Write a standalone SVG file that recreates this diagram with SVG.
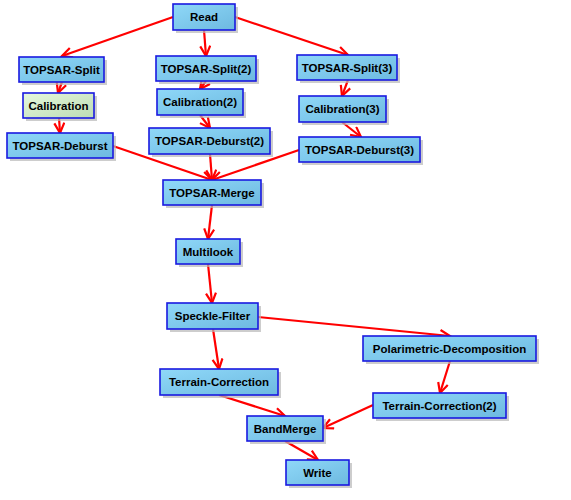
<svg xmlns="http://www.w3.org/2000/svg" width="571" height="500" viewBox="0 0 571 500">
<style>
.box{fill:url(#gb);stroke:#1a1ae0;stroke-width:1.6}
.box.g{fill:url(#gg)}
.sh{fill:#b8b8b8;opacity:0.7}
.t{font-family:"Liberation Sans",Arial,sans-serif;font-weight:bold;font-size:11.5px;fill:#000;text-anchor:middle}
.e{stroke:#ff0000;stroke-width:2.2;fill:none;marker-end:url(#ah)}
</style>
<defs>
<linearGradient id="gb" x1="0" y1="0" x2="1" y2="1">
<stop offset="0" stop-color="#8fd8f8"/>
<stop offset="1" stop-color="#6db9e0"/>
</linearGradient>
<linearGradient id="gg" x1="0" y1="0" x2="1" y2="1">
<stop offset="0" stop-color="#e6f8dc"/>
<stop offset="1" stop-color="#bcdcb4"/>
</linearGradient>
<marker id="ah" markerUnits="userSpaceOnUse" markerWidth="14" markerHeight="14" refX="11" refY="6" orient="auto">
<path d="M1,1 L11,6 L1,11" fill="none" stroke="#ff0000" stroke-width="2.2"/>
</marker>
</defs>
<rect width="571" height="500" fill="#fff"/>
<g id="connectors">
<line class="e" x1="173" y1="17" x2="62" y2="56"/>
<line class="e" x1="204" y1="30" x2="206" y2="56"/>
<line class="e" x1="235" y1="17" x2="348" y2="55"/>
<line class="e" x1="62" y1="82" x2="58" y2="93"/>
<line class="e" x1="59" y1="118" x2="60" y2="133"/>
<line class="e" x1="206" y1="81" x2="200" y2="89"/>
<line class="e" x1="200" y1="115" x2="210" y2="128"/>
<line class="e" x1="348" y1="80" x2="342" y2="96"/>
<line class="e" x1="342" y1="122" x2="361" y2="137"/>
<line class="e" x1="113" y1="146" x2="212" y2="180"/>
<line class="e" x1="210" y1="154" x2="212" y2="180"/>
<line class="e" x1="299" y1="150" x2="212" y2="180"/>
<line class="e" x1="212" y1="205" x2="208" y2="239"/>
<line class="e" x1="208" y1="264" x2="212" y2="303"/>
<line class="e" x1="213" y1="329" x2="219" y2="369"/>
<line class="e" x1="258" y1="317" x2="450" y2="336"/>
<line class="e" x1="450" y1="361" x2="440" y2="393"/>
<line class="e" x1="219" y1="395" x2="285" y2="416"/>
<line class="e" x1="373" y1="405" x2="323" y2="428"/>
<line class="e" x1="285" y1="441" x2="318" y2="460"/>
</g>
<g id="read"><rect class="sh" x="176" y="7" width="62" height="26"/><rect class="box" x="173" y="4" width="62" height="26"/><text class="t" x="204" y="21">Read</text></g>
<g id="split1"><rect class="sh" x="22" y="60" width="85" height="25"/><rect class="box" x="19" y="57" width="85" height="25"/><text class="t" x="61.5" y="73.5">TOPSAR-Split</text></g>
<g id="split2"><rect class="sh" x="159" y="59" width="100" height="25"/><rect class="box" x="156" y="56" width="100" height="25"/><text class="t" x="206" y="72.5">TOPSAR-Split(2)</text></g>
<g id="split3"><rect class="sh" x="300" y="58" width="100" height="25"/><rect class="box" x="297" y="55" width="100" height="25"/><text class="t" x="347" y="71.5">TOPSAR-Split(3)</text></g>
<g id="cal1"><rect class="sh" x="26" y="96" width="71" height="25"/><rect class="box g" x="23" y="93" width="71" height="25"/><text class="t" x="58.5" y="109.5">Calibration</text></g>
<g id="cal2"><rect class="sh" x="160" y="92" width="86" height="26"/><rect class="box" x="157" y="89" width="86" height="26"/><text class="t" x="200" y="106">Calibration(2)</text></g>
<g id="cal3"><rect class="sh" x="302" y="99" width="87" height="26"/><rect class="box" x="299" y="96" width="87" height="26"/><text class="t" x="342.5" y="113">Calibration(3)</text></g>
<g id="deb1"><rect class="sh" x="10" y="136" width="106" height="25"/><rect class="box" x="7" y="133" width="106" height="25"/><text class="t" x="60" y="149.5">TOPSAR-Deburst</text></g>
<g id="deb2"><rect class="sh" x="152" y="131" width="121" height="26"/><rect class="box" x="149" y="128" width="121" height="26"/><text class="t" x="209.5" y="145">TOPSAR-Deburst(2)</text></g>
<g id="deb3"><rect class="sh" x="302" y="140" width="121" height="25"/><rect class="box" x="299" y="137" width="121" height="25"/><text class="t" x="359.5" y="153.5">TOPSAR-Deburst(3)</text></g>
<g id="merge"><rect class="sh" x="166" y="183" width="98" height="25"/><rect class="box" x="163" y="180" width="98" height="25"/><text class="t" x="212" y="196.5">TOPSAR-Merge</text></g>
<g id="multilook"><rect class="sh" x="179" y="242" width="64" height="25"/><rect class="box" x="176" y="239" width="64" height="25"/><text class="t" x="208" y="255.5">Multilook</text></g>
<g id="speckle"><rect class="sh" x="170" y="306" width="91" height="26"/><rect class="box" x="167" y="303" width="91" height="26"/><text class="t" x="212.5" y="320">Speckle-Filter</text></g>
<g id="tc1"><rect class="sh" x="163" y="372" width="118" height="26"/><rect class="box" x="160" y="369" width="118" height="26"/><text class="t" x="219" y="386">Terrain-Correction</text></g>
<g id="poldec"><rect class="sh" x="366" y="339" width="173" height="25"/><rect class="box" x="363" y="336" width="173" height="25"/><text class="t" x="449.5" y="352.5">Polarimetric-Decomposition</text></g>
<g id="tc2"><rect class="sh" x="376" y="396" width="133" height="25"/><rect class="box" x="373" y="393" width="133" height="25"/><text class="t" x="439.5" y="409.5">Terrain-Correction(2)</text></g>
<g id="bandmerge"><rect class="sh" x="250" y="419" width="76" height="25"/><rect class="box" x="247" y="416" width="76" height="25"/><text class="t" x="285" y="432.5">BandMerge</text></g>
<g id="write"><rect class="sh" x="289" y="463" width="63" height="25"/><rect class="box" x="286" y="460" width="63" height="25"/><text class="t" x="317.5" y="476.5">Write</text></g>
</svg>
